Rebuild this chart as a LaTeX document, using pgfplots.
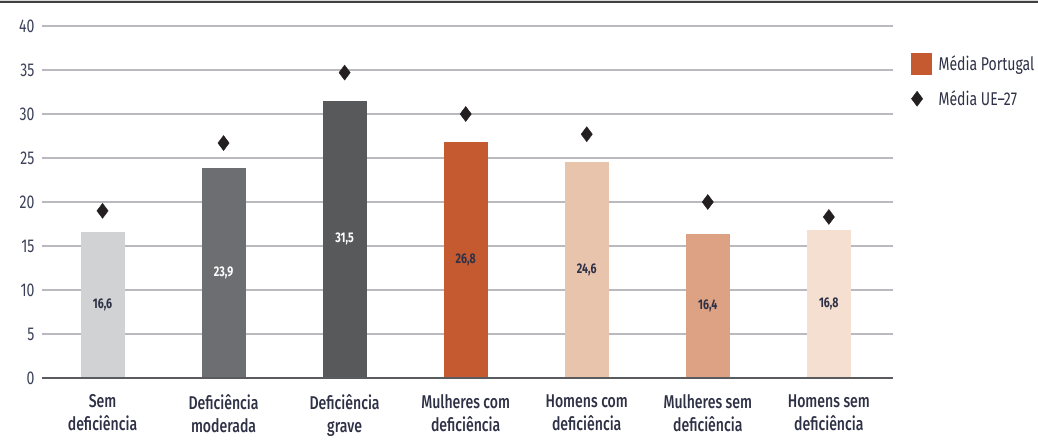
\documentclass[border=0pt]{standalone}
\usepackage{fontspec}
\setmainfont{Fira Sans}[FakeStretch=0.76]
\newfontfamily\medfont{Fira Sans Medium}[FakeStretch=0.76]
\usepackage{pgfplots}
\pgfplotsset{compat=1.18}

\definecolor{txt}{HTML}{2E3146}
\definecolor{tick}{HTML}{3A4058}
\definecolor{gridc}{HTML}{B9B9BE}
\definecolor{base}{HTML}{5A5B5F}
\definecolor{c1}{HTML}{D1D2D4}
\definecolor{c2}{HTML}{6D6E71}
\definecolor{c3}{HTML}{58595B}
\definecolor{c4}{HTML}{C55A30}
\definecolor{c5}{HTML}{E9C4AC}
\definecolor{c6}{HTML}{DCA283}
\definecolor{c7}{HTML}{F5DFD1}
\definecolor{mk}{HTML}{231F20}

\begin{document}
\begin{tikzpicture}
\path[use as bounding box, clip] (0,0) rectangle (1038pt,444pt);
\draw[line width=2pt, black!15] (0,444pt) -- (1038pt,444pt);
\draw[line width=1.2pt, black!75] (0,442pt) -- (1038pt,442pt);
\begin{axis}[
  at={(42pt,66pt)}, anchor=south west,
  scale only axis, width=851pt, height=352pt,
  ymin=0, ymax=40, ytick={0,5,...,40},
  xmin=-0.5, xmax=6.53,
  xtick={0,...,6},
  xticklabels={Sem\\deficiência, Deficiência\\moderada, Deficiência\\grave, Mulheres com\\deficiência, Homens com\\deficiência, Mulheres sem\\deficiência, Homens sem\\deficiência},
  xticklabel style={align=center, font=\medfont\fontsize{18.5}{23}\selectfont, text=txt, yshift=-13pt},
  yticklabel style={font=\fontsize{18.5}{22}\selectfont, text=tick, xshift=-4pt},
  /pgf/number format/assume math mode=true,
  axis line style={draw=none},
  major tick length=0pt,
  ymajorgrids, grid style={gridc, line width=1.4pt},
  ybar, bar width=44pt, bar shift=0pt,
  clip=false,
  legend style={at={(1,1)}, anchor=north west, xshift=15pt, yshift=-25pt, draw=none, fill=none,
    font=\fontsize{18.5}{22}\selectfont, text=txt, row sep=14pt, column sep=5pt, legend cell align=left},
]
\addlegendimage{legend image code/.code={\fill[c4] (0.05cm,-10.5pt) rectangle ++(20pt,21pt);}}
\addlegendentry{Média Portugal}
\addlegendimage{legend image code/.code={\draw[only marks, mark=diamond*, mark size=7.5pt, mark options={fill=mk, draw=mk}] plot coordinates {(0.25cm,0cm)};}}
\addlegendentry{Média UE–27}

\addplot[fill=c1, draw=none, forget plot] coordinates {(0,16.6)};
\addplot[fill=c2, draw=none, forget plot] coordinates {(1,23.9)};
\addplot[fill=c3, draw=none, forget plot] coordinates {(2,31.5)};
\addplot[fill=c4, draw=none, forget plot] coordinates {(3,26.8)};
\addplot[fill=c5, draw=none, forget plot] coordinates {(4,24.6)};
\addplot[fill=c6, draw=none, forget plot] coordinates {(5,16.4)};
\addplot[fill=c7, draw=none, forget plot] coordinates {(6,16.8)};

\draw[base, line width=2pt] (rel axis cs:0,0) -- (rel axis cs:1,0);

% value labels at half bar height
\addplot[only marks, mark=none, forget plot, nodes near coords, point meta=explicit symbolic,
  every node near coord/.append style={anchor=center, font=\bfseries\fontsize{14}{16}\selectfont, text=txt}]
  coordinates {(0,8.3)[16,6] (3,13.4)[26,8] (4,12.3)[24,6] (5,8.2)[16,4] (6,8.4)[16,8]};
\addplot[only marks, mark=none, forget plot, nodes near coords, point meta=explicit symbolic,
  every node near coord/.append style={anchor=center, font=\bfseries\fontsize{14}{16}\selectfont, text=white}]
  coordinates {(1,11.95)[23,9] (2,15.75)[31,5]};

% EU-27 averages
\addplot[only marks, mark=diamond*, mark size=7.5pt, mark options={fill=mk, draw=mk}, forget plot]
  coordinates {(0,19.0) (1,26.7) (2,34.7) (3,30.0) (4,27.7) (5,20.0) (6,18.3)};
\end{axis}
\end{tikzpicture}
\end{document}
